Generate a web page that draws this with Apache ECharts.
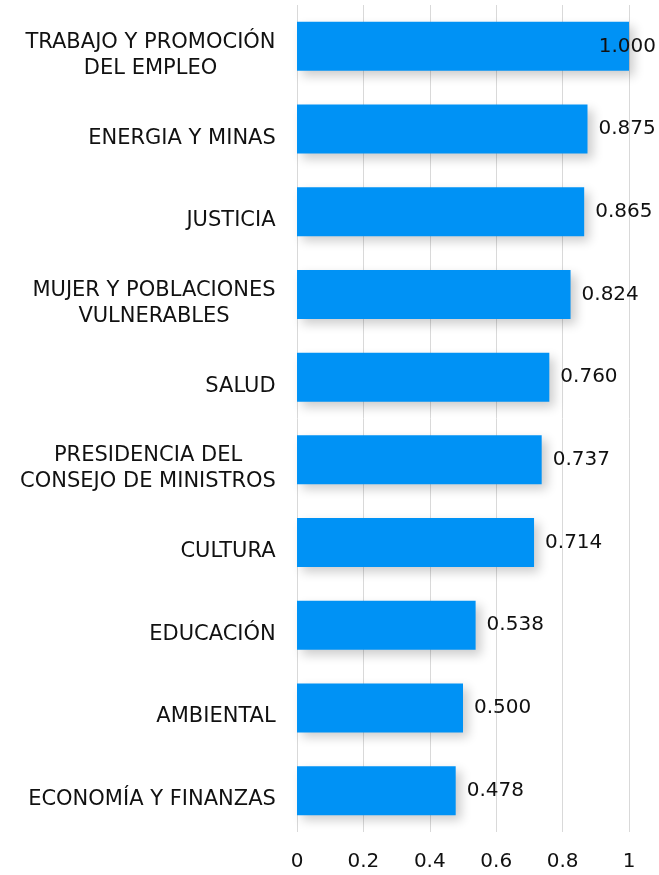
<!DOCTYPE html>
<html>
<head>
<meta charset="utf-8">
<script src="https://cdn.jsdelivr.net/npm/echarts@6/dist/echarts.min.js"></script>
<style>
  html, body { margin: 0; padding: 0; background: #fff; }
  #chart { width: 659px; height: 875px; }
</style>
</head>
<body>
<div id="chart"></div>
<script>
// categorías y valores (de arriba hacia abajo)
const categorias = [
  "TRABAJO Y PROMOCIÓN\nDEL EMPLEO",
  "ENERGIA Y MINAS",
  "JUSTICIA",
  "MUJER Y POBLACIONES\nVULNERABLES",
  "SALUD",
  "PRESIDENCIA DEL\nCONSEJO DE MINISTROS",
  "CULTURA",
  "EDUCACIÓN",
  "AMBIENTAL",
  "ECONOMÍA Y FINANZAS"
];
const valores = [1.000, 0.875, 0.865, 0.824, 0.760, 0.737, 0.714, 0.538, 0.500, 0.478];
const ticks = [0, 0.2, 0.4, 0.6, 0.8, 1];

const FUENTE = "DejaVu Sans";
const TAM = 20;
const TAM_CAT = 21;

document.addEventListener("DOMContentLoaded", function () {
  const chart = echarts.init(document.getElementById("chart"));

  // medir el ancho de cada etiqueta para centrar las líneas dentro del bloque
  const ctx = document.createElement("canvas").getContext("2d");
  ctx.font = TAM_CAT + "px " + FUENTE;
  const rich = {};
  categorias.forEach((c, i) => {
    const w = Math.max(...c.split("\n").map(l => ctx.measureText(l).width));
    rich["w" + i] = { width: Math.ceil(w), align: "center", fontSize: TAM_CAT, fontFamily: FUENTE, color: "#111", lineHeight: 26 };
  });

  const datos = valores.map((v, i) => {
    if (i === 0) {
      return { value: v, label: { position: "insideRight", distance: 0, offset: [27, 0] } };
    }
    return v;
  });

  const option = {
    animation: false,
    grid: { left: 297, right: 30, top: 5, bottom: 43 },
    xAxis: {
      type: "value",
      min: 0,
      max: 1,
      interval: 0.2,
      axisLine: { show: false },
      axisTick: { show: false },
      splitLine: { lineStyle: { color: "#d9d9d9", width: 1 } },
      axisLabel: {
        margin: 20,
        fontSize: TAM,
        fontFamily: FUENTE,
        color: "#111",
        formatter: v => String(ticks.find(t => Math.abs(t - v) < 1e-9) ?? v)
      }
    },
    yAxis: {
      type: "category",
      inverse: true,
      data: categorias,
      axisLine: { show: false },
      axisTick: { show: false },
      axisLabel: {
        margin: 21,
        align: "right",
        padding: [18, 0, 0, 0],
        rich: rich,
        formatter: function (val, idx) {
          return "{w" + idx + "|" + val + "}";
        }
      }
    },
    series: [
      {
        type: "bar",
        data: datos,
        barWidth: 49,
        itemStyle: {
          color: "#0092f5",
          shadowColor: "rgba(0,0,0,0.2)",
          shadowBlur: 10,
          shadowOffsetX: 5,
          shadowOffsetY: 5
        },
        label: {
          show: true,
          position: "right",
          distance: 11,
          fontSize: TAM,
          fontFamily: FUENTE,
          color: "#111",
          formatter: p => p.value.toFixed(3)
        }
      }
    ]
  };

  chart.setOption(option);
});
</script>
</body>
</html>
